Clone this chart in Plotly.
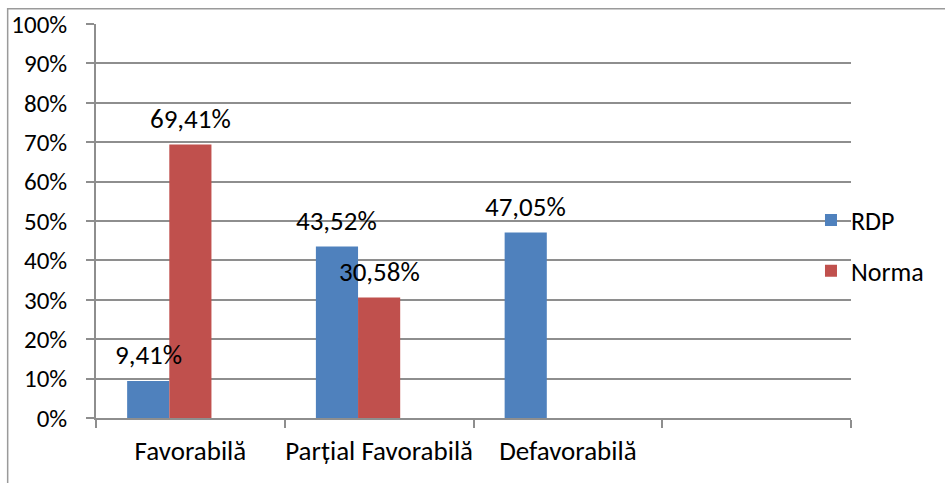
import plotly.graph_objects as go

# Category slots on the x axis (the last slot is left empty)
categories = ["Favorabilă", "Parțial Favorabilă", "Defavorabilă", " "]

# Series values, in percent
rdp_values = [9.41, 43.52, 47.05, None]
norma_values = [69.41, 30.58, None, None]
spare_values = [0, 0, 0, 0]  # empty third series that reserves its slot in each group

y_ticks = [0, 10, 20, 30, 40, 50, 60, 70, 80, 90, 100]

FONT = "Carlito, Calibri, Lato, 'Open Sans', sans-serif"
FS = 26
BLUE = "#4F81BD"
RED = "#C0504D"
GRID = "#8E8E8E"
BAR_GAP = 0.33


def pct_label(v):
    return f"{v:.2f}%".replace(".", ",")


fig = go.Figure()
fig.add_trace(go.Bar(x=categories, y=rdp_values, name="RDP",
                     marker=dict(color=BLUE, line=dict(width=0)),
                     legendgroup="a"))
fig.add_trace(go.Bar(x=categories, y=norma_values, name="Norma",
                     marker=dict(color=RED, line=dict(width=0)),
                     legendgroup="b"))
fig.add_trace(go.Bar(x=categories, y=spare_values, name="",
                     marker=dict(color="rgba(0,0,0,0)", line=dict(width=0)),
                     showlegend=False, hoverinfo="skip"))

# Value labels above each bar, placed at the bar's slot within its group
n_series = 3
slot = (1 - BAR_GAP) / n_series
for s_idx, values in enumerate([rdp_values, norma_values]):
    offset = (s_idx - (n_series - 1) / 2) * slot
    for c_idx, v in enumerate(values):
        if v is None:
            continue
        fig.add_annotation(x=c_idx + offset, y=v, xref="x", yref="y",
                           text=pct_label(v), showarrow=False,
                           yanchor="middle", yshift=26,
                           font=dict(family=FONT, size=FS + 1, color="#000000"))

# Outer chart frame
fig.add_shape(type="rect", xref="paper", yref="paper",
              x0=-0.117, x1=1.3, y0=-0.3, y1=1.039,
              line=dict(color="#9A9A9A", width=1.5), layer="below")

fig.update_layout(
    width=945, height=483,
    margin=dict(l=96, r=94, t=24, b=65, autoexpand=False),
    paper_bgcolor="white", plot_bgcolor="white",
    barmode="group", bargap=BAR_GAP, bargroupgap=0,
    font=dict(family=FONT, size=FS, color="#000000"),
    showlegend=True,
    legend=dict(x=0.947, xanchor="left", y=0.562, yanchor="top",
                bgcolor="rgba(0,0,0,0)", borderwidth=0,
                tracegroupgap=14, font=dict(family=FONT, size=FS),
                itemwidth=30),
    xaxis=dict(type="category", range=[-0.5, 3.5],
               categoryorder="array", categoryarray=categories,
               tickson="boundaries", ticks="outside", ticklen=8,
               tickcolor=GRID, tickwidth=1.5, ticklabelstandoff=8,
               tickangle=0,
               showline=True, linecolor=GRID, linewidth=1.5,
               showgrid=False, tickfont=dict(family=FONT, size=FS + 1),
               fixedrange=True),
    yaxis=dict(range=[0, 100], tickvals=y_ticks,
               ticktext=[f"{t}%" for t in y_ticks],
               ticks="outside", ticklen=8, tickcolor=GRID, tickwidth=1.5,
               ticklabelstandoff=14,
               showline=True, linecolor=GRID, linewidth=1.5,
               showgrid=True, gridcolor=GRID, gridwidth=1.5,
               zeroline=False, tickfont=dict(family=FONT, size=FS - 1),
               fixedrange=True),
)

fig.write_html("out.html")
